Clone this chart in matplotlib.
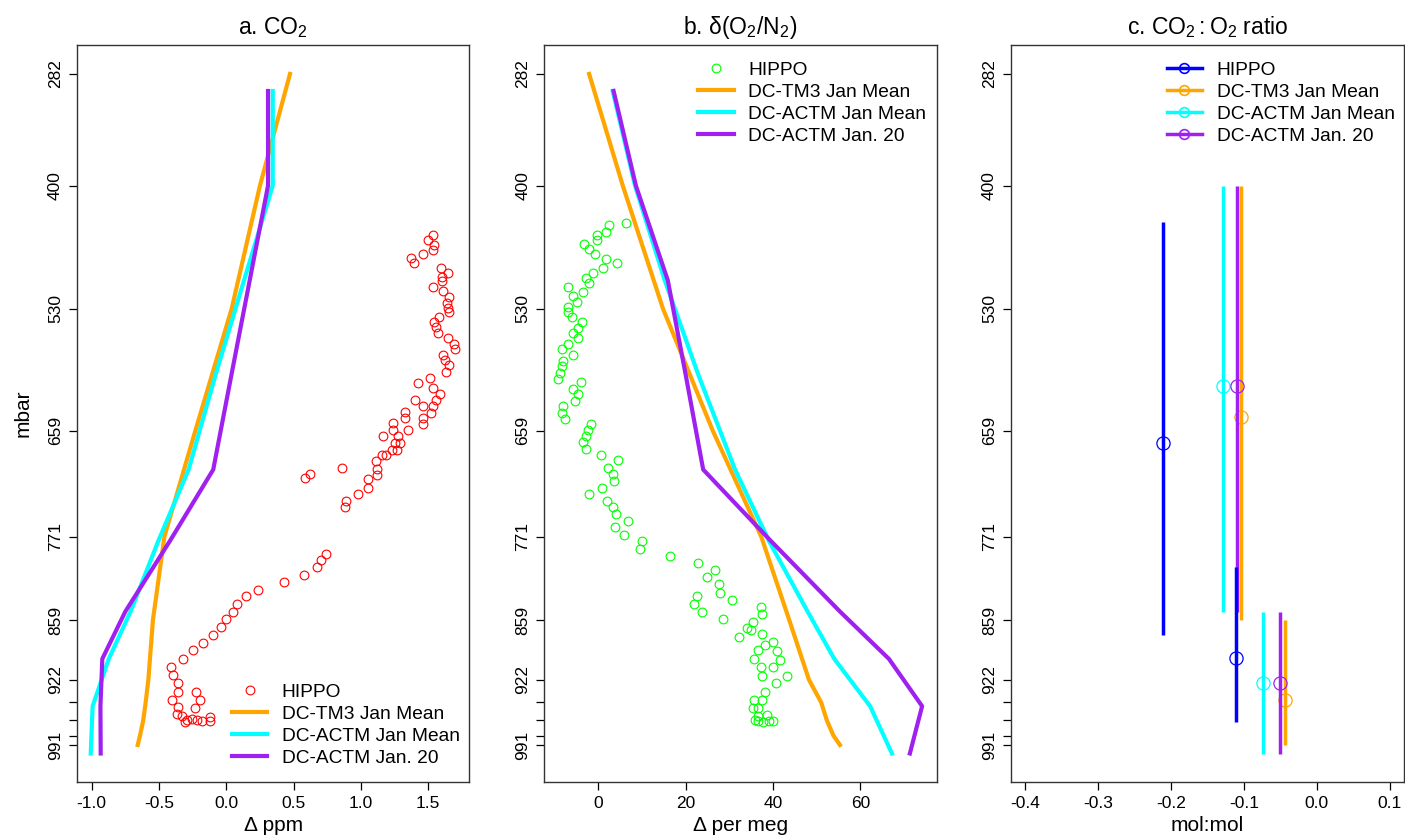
import matplotlib
matplotlib.use("Agg")
import matplotlib.pyplot as plt
from matplotlib.lines import Line2D

plt.rcParams['font.family'] = ['Liberation Sans', 'DejaVu Sans']
plt.rcParams['mathtext.default'] = 'regular'
plt.rcParams['axes.unicode_minus'] = False

# ---------------- data ----------------
p_ticks = [282, 400, 530, 659, 771, 859, 922, 946, 965, 981, 991]
p_tick_labels = ['282', '400', '530', '659', '771', '859', '922', '', '', '', '991']

# model levels
p_tm3 = [282, 400, 530, 659, 771, 859, 922, 946, 965, 981, 991]
p_actm = [300, 400, 500, 600, 700, 775, 850, 900, 950, 1000]

# panel a: CO2 (ppm)
co2_tm3 = [0.473, 0.25, 0.04, -0.23, -0.46, -0.545, -0.579, -0.599, -0.617, -0.641, -0.658]
co2_actm_mean = [0.345, 0.345, 0.132, -0.08, -0.28, -0.504, -0.711, -0.873, -0.993, -1.007]
co2_actm_jan20 = [0.31, 0.31, 0.174, 0.038, -0.097, -0.417, -0.75, -0.921, -0.935, -0.933]

hippo_co2 = [1.533, 1.496, 1.543, 1.538, 1.464, 1.372, 1.395, 1.595, 1.650, 1.600, 1.600, 1.533,
             1.612, 1.657, 1.642, 1.650, 1.657, 1.580, 1.543, 1.556, 1.575, 1.645, 1.692, 1.700,
             1.612, 1.625, 1.657, 1.632, 1.513, 1.427, 1.533, 1.588, 1.558, 1.402, 1.464, 1.533,
             1.518, 1.328, 1.328, 1.464, 1.464, 1.348, 1.236, 1.241, 1.166, 1.278, 1.290, 1.253,
             1.270, 1.229, 1.186, 1.154, 1.110, 1.122, 0.857, 1.117, 0.622, 0.585, 1.055, 1.055,
             0.981, 0.889, 0.882, 0.741, 0.701, 0.672, 0.580, 0.429, 0.233, 0.144, 0.082, 0.048,
             -0.002, -0.042, -0.097, -0.176, -0.245, -0.324, -0.413, -0.394, -0.357, -0.357,
             -0.406, -0.225, -0.195, -0.233, -0.357, -0.369, -0.331, -0.294, -0.257, -0.220,
             -0.183, -0.121, -0.121, -0.307]
hippo_co2_p = [452, 457, 463, 468, 472, 476, 482, 487, 492, 497, 501, 507,
               511, 518, 524, 529, 534, 539, 544, 549, 556, 561, 567, 573,
               579, 584, 590, 597, 603, 609, 614, 620, 627, 627, 633, 633,
               640, 639, 646, 646, 652, 658, 651, 658, 665, 665, 672, 672,
               679, 679, 685, 685, 691, 699, 698, 706, 705, 709, 710, 719,
               726, 733, 740, 789, 796, 803, 811, 819, 827, 834, 842, 850,
               858, 866, 875, 883, 891, 900, 909, 917, 925, 935,
               943, 935, 944, 952, 951, 958, 960, 965, 964, 965,
               966, 961, 966, 967]

# panel b: d(O2/N2) (per meg)
o2_tm3 = [-2.1, 5.6, 14.8, 26.2, 37.3, 43.7, 48.2, 51.0, 52.3, 53.8, 55.3]
o2_actm_mean = [3.3, 8.4, 15.2, 22.9, 31.3, 39.0, 47.9, 54.0, 62.2, 67.2]
o2_actm_jan20 = [3.5, 8.6, 15.9, 20.0, 24.0, 39.4, 55.3, 66.5, 74.1, 71.3]

hippo_o2 = [6.34, 2.45, 1.76, -0.37, -0.37, -3.2, -2.06, -0.69, 1.76, 4.35, 1.14, -1.28,
            -2.81, -2.06, -7.0, -3.57, -5.86, -4.94, -6.86, -6.86, -6.09, -3.80, -4.58, -5.72,
            -4.58, -6.86, -8.24, -5.72, -8.01, -8.39, -8.77, -9.15, -4.03, -5.72, -4.71, -5.33,
            -8.01, -8.39, -7.62, -1.74, -2.29, -2.81, -3.57, -2.81, 0.55, 4.40, 2.29, 3.30,
            3.66, 0.92, -2.13, 1.92, 3.43, 4.05, 6.87, 3.82, 5.88, 9.93, 9.54, 16.41,
            22.88, 26.7, 24.8, 27.6, 27.85, 30.5, 22.65, 21.97, 23.8, 28.6, 37.2, 37.4,
            35.3, 33.96, 34.9, 32.3, 37.5, 39.9, 38.1, 36.6, 40.8, 41.6, 35.6, 37.2,
            39.9, 43.2, 37.5, 40.7, 38.1, 35.6, 37.4, 35.5, 36.6, 36.6, 38.5, 36.6,
            37.8, 39.1, 40.0, 35.9]
hippo_o2_p = [439, 442, 449, 452, 457, 462, 467, 472, 477, 482, 487, 492,
              498, 503, 507, 512, 517, 523, 528, 533, 539, 544, 550, 556,
              561, 567, 573, 579, 585, 591, 598, 604, 608, 615, 620, 628,
              633, 640, 647, 652, 658, 665, 671, 678, 685, 690, 698, 705,
              712, 719, 726, 733, 740, 747, 754, 761, 769, 776, 784, 791,
              799, 806, 814, 821, 830, 838, 834, 842, 850, 858, 845, 853,
              861, 867, 870, 877, 874, 882, 885, 891, 892, 901, 900, 909,
              909, 918, 918, 926, 935, 943, 943, 952, 952, 960, 959, 966,
              967, 966, 966, 965]

# panel c: CO2:O2 ratio (mol:mol), two layers per series
ratio_series = ['HIPPO', 'DC-TM3 Jan Mean', 'DC-ACTM Jan Mean', 'DC-ACTM Jan. 20']
ratio_values = {
    'HIPPO': [-0.211, -0.111],
    'DC-TM3 Jan Mean': [-0.104, -0.043],
    'DC-ACTM Jan Mean': [-0.128, -0.074],
    'DC-ACTM Jan. 20': [-0.110, -0.051],
}
ratio_p_top = {
    'HIPPO': [438, 803],
    'DC-TM3 Jan Mean': [400, 859],
    'DC-ACTM Jan Mean': [400, 850],
    'DC-ACTM Jan. 20': [400, 850],
}
ratio_p_bottom = {
    'HIPPO': [875, 967],
    'DC-TM3 Jan Mean': [859, 991],
    'DC-ACTM Jan Mean': [850, 1001],
    'DC-ACTM Jan. 20': [850, 1001],
}
ratio_p_mark = {
    'HIPPO': [672, 899],
    'DC-TM3 Jan Mean': [644, 944],
    'DC-ACTM Jan Mean': [612, 925],
    'DC-ACTM Jan. 20': [612, 925],
}

# ---------------- style ----------------
C_TM3 = '#FFA500'
C_ACTM = '#00FFFF'
C_J20 = '#A020F0'
ratio_colors = {'HIPPO': '#0000FF', 'DC-TM3 Jan Mean': C_TM3,
                'DC-ACTM Jan Mean': C_ACTM, 'DC-ACTM Jan. 20': C_J20}
LW = 3.0
TICK_FS = 12.5
LAB_FS = 15
TITLE_FS = 16.5
LEG_FS = 13.8
YLIM = (1029.8, 251.4)

fig = plt.figure(figsize=(14.05, 8.39), dpi=100)
W, H = 1405, 839


def make_ax(left_px, right_px):
    return fig.add_axes([left_px / W, 1 - 781.7 / H, (right_px - left_px) / W, (781.7 - 45) / H])


def style_ax(ax):
    ax.set_ylim(*YLIM)
    ax.set_yticks(p_ticks)
    ax.set_yticklabels(p_tick_labels, rotation=90, va='center')
    ax.tick_params(direction='out', length=6, width=0.9, labelsize=TICK_FS, pad=4, colors='black')
    for s in ax.spines.values():
        s.set_linewidth(1.0)
        s.set_color('#333333')


leg_kw = dict(frameon=False, fontsize=LEG_FS, borderpad=0, handlelength=1.85,
              handletextpad=0.75, labelspacing=0.24, borderaxespad=0)

# ---- panel a ----
axa = make_ax(77, 469.3)
axa.plot(hippo_co2, hippo_co2_p, 'o', mfc='none', mec='red', ms=6.3, mew=0.8, label='HIPPO')
axa.plot(co2_tm3, p_tm3, color=C_TM3, lw=LW, label='DC-TM3 Jan Mean')
axa.plot(co2_actm_mean, p_actm, color=C_ACTM, lw=LW, label='DC-ACTM Jan Mean')
axa.plot(co2_actm_jan20, p_actm, color=C_J20, lw=LW, label='DC-ACTM Jan. 20')
axa.set_xlim(-1.109, 1.805)
axa.set_xticks([-1.0, -0.5, 0.0, 0.5, 1.0, 1.5])
axa.set_xticklabels(['-1.0', '-0.5', '0.0', '0.5', '1.0', '1.5'])
style_ax(axa)
axa.set_title('a. CO$_2$', fontsize=TITLE_FS, pad=8)
axa.set_xlabel('Δ ppm', fontsize=LAB_FS, labelpad=4)
axa.set_ylabel('mbar', fontsize=LAB_FS, labelpad=11)
axa.legend(loc='lower left', bbox_to_anchor=(0.3946, 0.02), **leg_kw)

# ---- panel b ----
axb = make_ax(544.3, 936.7)
axb.plot(hippo_o2, hippo_o2_p, 'o', mfc='none', mec='#00FF00', ms=6.3, mew=0.8, label='HIPPO')
axb.plot(o2_tm3, p_tm3, color=C_TM3, lw=LW, label='DC-TM3 Jan Mean')
axb.plot(o2_actm_mean, p_actm, color=C_ACTM, lw=LW, label='DC-ACTM Jan Mean')
axb.plot(o2_actm_jan20, p_actm, color=C_J20, lw=LW, label='DC-ACTM Jan. 20')
axb.set_xlim(-12.36, 77.44)
axb.set_xticks([0, 20, 40, 60])
style_ax(axb)
axb.set_title('b. δ(O$_2$/N$_2$)', fontsize=TITLE_FS, pad=8)
axb.set_xlabel('Δ per meg', fontsize=LAB_FS, labelpad=4)
axb.legend(loc='upper left', bbox_to_anchor=(0.3925, 0.978), **leg_kw)

# ---- panel c ----
axc = make_ax(1011, 1404.3)
draw_order = ['DC-TM3 Jan Mean', 'DC-ACTM Jan Mean', 'DC-ACTM Jan. 20', 'HIPPO']
for name in draw_order:
    col = ratio_colors[name]
    xs = ratio_values[name]
    axc.vlines(xs, ratio_p_top[name], ratio_p_bottom[name], colors=col, lw=2.5)
    axc.plot(xs, ratio_p_mark[name], 'o', mfc='none', mec=col, ms=9.5, mew=0.9, ls='none')
handles = [Line2D([0], [0], color=ratio_colors[n], lw=2.5, marker='o', mfc='none',
                  mec=ratio_colors[n], ms=7, mew=1.2) for n in ratio_series]
axc.set_xlim(-0.4193, 0.120)
axc.set_xticks([-0.4, -0.3, -0.2, -0.1, 0.0, 0.1])
axc.set_xticklabels(['-0.4', '-0.3', '-0.2', '-0.1', '0.0', '0.1'])
style_ax(axc)
axc.set_title('c. CO$_2$$\\,$:$\\,$O$_2$ ratio', fontsize=TITLE_FS, pad=8)
axc.set_xlabel('mol:mol', fontsize=LAB_FS, labelpad=4)
axc.legend(handles, ratio_series, loc='upper left', bbox_to_anchor=(0.396, 0.978), **leg_kw)

fig.savefig('out.png', dpi=100)
